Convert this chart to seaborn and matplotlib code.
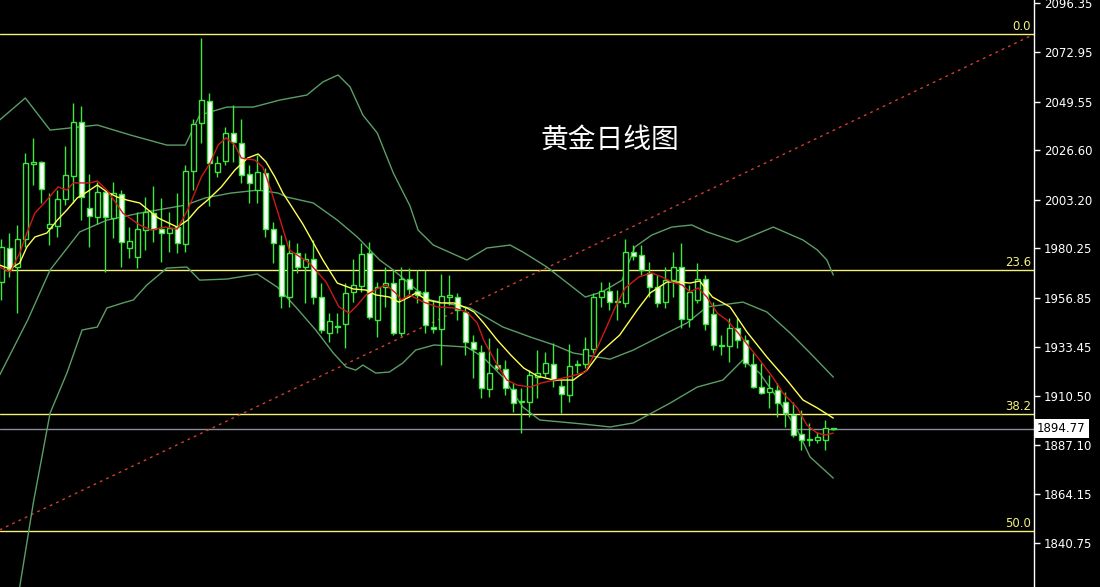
import numpy as np
import pandas as pd
import matplotlib
matplotlib.use("Agg")
import matplotlib.pyplot as plt
import seaborn as sns

# 日线 K 线数据 (开, 高, 低, 收)
opens = [1964.3, 1980.4, 1971.4, 1984.7, 2020.1, 2021.1, 1989.9, 1990.8, 2003.6, 2014.5,
         2040.0, 1999.3, 1995.1, 2006.9, 1994.6, 2006.0, 1980.4, 1976.2, 1988.9, 1996.9,
         1989.4, 1987.5, 1990.3, 1982.3, 2016.8, 2039.5, 2050.0, 2016.4, 2021.6, 2034.8,
         2030.1, 2015.4, 2007.8, 2015.9, 1989.4, 1981.8, 1957.2, 1978.0, 1971.4, 1975.2,
         1957.2, 1940.2, 1943.0, 1944.4, 1959.6, 1962.4, 1978.0, 1946.3, 1961.9, 1963.8,
         1940.2, 1965.7, 1960.0, 1959.6, 1943.0, 1942.1, 1957.2, 1957.2, 1950.1, 1935.9,
         1931.2, 1913.7, 1925.0, 1923.1, 1913.7, 1907.5, 1907.5, 1919.3, 1921.2, 1925.5,
         1915.1, 1910.8, 1925.0, 1925.5, 1932.6, 1957.2, 1960.0, 1954.8, 1954.4, 1978.5,
         1977.1, 1968.6, 1961.9, 1954.8, 1965.2, 1971.4, 1946.8, 1955.8, 1965.7, 1949.2,
         1934.5, 1934.0, 1942.5, 1936.8, 1925.5, 1914.6, 1912.2, 1913.2, 1907.5, 1901.4,
         1892.3, 1890.0, 1889.5, 1889.5, 1894.8]
highs = [1984.7, 1987.5, 1991.3, 2025.4, 2032.5, 2021.6, 2006.4, 2007.8, 2028.7, 2049.0,
         2047.6, 2015.4, 2011.6, 2007.4, 2011.6, 2008.0, 1990.3, 1997.4, 2004.5, 2009.7,
         2004.1, 1997.4, 2006.4, 2019.7, 2041.4, 2079.8, 2053.8, 2023.9, 2037.7, 2048.1,
         2041.4, 2019.7, 2024.4, 2018.2, 1992.7, 1986.5, 1984.2, 1982.7, 1978.0, 1984.2,
         1963.8, 1949.6, 1949.6, 1963.8, 1975.2, 1982.7, 1983.2, 1964.3, 1971.4, 1970.0,
         1971.4, 1970.9, 1970.0, 1970.0, 1955.8, 1968.1, 1967.6, 1959.1, 1952.5, 1939.2,
         1934.5, 1937.8, 1933.1, 1927.4, 1916.5, 1914.1, 1922.6, 1932.1, 1931.2, 1935.4,
         1917.9, 1934.9, 1927.4, 1938.3, 1959.1, 1964.3, 1964.3, 1960.5, 1984.7, 1981.8,
         1981.8, 1973.8, 1967.6, 1971.4, 1978.5, 1982.7, 1962.9, 1973.3, 1967.6, 1954.8,
         1939.2, 1947.3, 1947.3, 1939.2, 1930.7, 1926.0, 1920.3, 1916.5, 1912.2, 1907.5,
         1903.7, 1897.6, 1893.3, 1899.0, 1895.2]
lows = [1955.8, 1966.7, 1949.6, 1980.9, 2010.2, 2001.7, 1981.8, 1985.6, 2000.7, 2001.7,
        1993.6, 1980.9, 1991.7, 1969.0, 1985.1, 1971.4, 1975.7, 1970.9, 1979.5, 1983.2,
        1973.8, 1978.5, 1978.0, 1978.5, 2007.8, 2030.1, 2000.2, 2014.0, 2019.7, 2021.1,
        2011.2, 2001.7, 2001.7, 1985.6, 1973.3, 1952.0, 1952.5, 1968.6, 1954.4, 1953.9,
        1940.2, 1935.9, 1940.2, 1933.1, 1954.8, 1959.6, 1946.8, 1938.3, 1952.5, 1939.2,
        1938.8, 1958.6, 1954.4, 1940.2, 1940.2, 1925.0, 1953.4, 1946.3, 1929.7, 1918.9,
        1909.4, 1909.9, 1922.6, 1910.8, 1902.8, 1892.8, 1900.4, 1909.4, 1919.3, 1914.6,
        1902.3, 1907.5, 1921.2, 1923.6, 1930.7, 1952.5, 1951.1, 1946.3, 1952.5, 1974.7,
        1967.6, 1957.2, 1952.5, 1952.0, 1957.2, 1942.5, 1943.0, 1954.4, 1941.6, 1932.1,
        1929.7, 1926.4, 1933.1, 1924.1, 1914.1, 1911.3, 1904.7, 1900.4, 1895.7, 1890.9,
        1884.8, 1886.7, 1888.1, 1884.8, 1894.5]
closes = [1980.9, 1970.5, 1984.7, 2020.6, 2021.1, 2008.3, 1991.7, 2003.6, 2014.9, 2040.0,
          2004.5, 1995.5, 2006.9, 1995.1, 2006.5, 1983.2, 1983.7, 1989.4, 1997.4, 1989.4,
          1987.5, 1989.9, 1982.7, 2016.8, 2039.1, 2050.4, 2020.6, 2020.6, 2034.8, 2030.6,
          2014.9, 2011.2, 2016.4, 1989.4, 1982.7, 1957.7, 1978.0, 1971.4, 1975.2, 1957.2,
          1941.6, 1945.8, 1943.5, 1959.1, 1962.9, 1977.5, 1947.7, 1961.9, 1963.8, 1940.2,
          1965.7, 1961.0, 1958.1, 1943.9, 1942.1, 1957.7, 1958.1, 1951.1, 1935.9, 1932.6,
          1914.1, 1921.2, 1923.6, 1914.1, 1907.0, 1908.0, 1920.3, 1921.2, 1926.0, 1917.9,
          1911.3, 1924.5, 1925.5, 1932.6, 1957.2, 1960.0, 1954.8, 1955.3, 1978.5, 1976.6,
          1970.0, 1961.9, 1954.4, 1965.2, 1971.4, 1946.8, 1959.6, 1965.7, 1944.4, 1934.5,
          1934.0, 1942.5, 1936.8, 1926.0, 1914.6, 1911.8, 1914.1, 1907.0, 1902.3, 1891.9,
          1889.5, 1889.5, 1891.0, 1895.2, 1894.77]

# 均线 (红色快线 / 黄色慢线), 按K线序号取点
ma_fast_x = [-0.2, 1.1, 2.3, 3.2, 4.2, 5.7, 7.1, 8.2, 9.0, 11.1, 12.0, 13.2, 15.2, 17.3, 18.7,
             20.5, 22.0, 23.3, 25.0, 26.1, 27.1, 28.1, 29.2, 30.0, 31.7, 32.7, 33.7, 34.6, 36.0,
             38.5, 40.6, 42.2, 43.5, 44.3, 45.6, 47.2, 48.1, 49.3, 50.0, 51.0, 52.8, 54.5, 56.6,
             58.2, 59.5, 60.3, 62.0, 63.2, 64.5, 66.2, 67.5, 69.1, 71.3, 73.0, 74.2, 75.5, 76.7,
             78.0, 79.7, 81.3, 82.6, 83.8, 85.1, 86.1, 87.1, 88.2, 89.5, 90.7, 92.0, 93.3, 94.8,
             96.5, 97.7, 99.5, 100.7, 102.0, 103.0, 104.0]
ma_fast = [1971.4, 1969.0, 1978.0, 1987.5, 1996.9, 2003.1, 2009.3, 2007.8, 2011.2, 2011.2,
           2012.1, 2007.8, 1996.9, 1991.3, 1988.9, 1990.3, 1989.4, 1998.4, 2014.0, 2020.6,
           2029.1, 2032.5, 2029.1, 2023.0, 2022.0, 2018.7, 2007.8, 1996.9, 1979.5, 1973.3,
           1964.3, 1952.5, 1949.6, 1952.5, 1958.2, 1961.5, 1962.9, 1959.1, 1955.8, 1958.2,
           1954.8, 1952.5, 1952.0, 1950.1, 1944.9, 1936.8, 1925.0, 1917.9, 1915.5, 1914.6,
           1916.5, 1917.9, 1919.8, 1921.7, 1930.7, 1941.6, 1952.0, 1961.5, 1966.7, 1968.6,
           1966.7, 1964.3, 1962.9, 1959.6, 1961.5, 1957.2, 1949.6, 1946.3, 1940.7, 1934.5,
           1927.4, 1918.9, 1911.8, 1904.7, 1896.6, 1892.8, 1891.9, 1892.8]
ma_slow_x = [-0.2, 1.1, 2.3, 3.2, 4.2, 5.7, 7.0, 8.2, 9.5, 10.7, 12.0, 13.2, 14.5, 15.7, 17.3,
             19.6, 22.0, 23.3, 24.6, 25.8, 27.5, 29.2, 30.8, 32.1, 33.1, 34.2, 35.2, 37.7, 40.2,
             42.0, 44.0, 45.6, 46.8, 48.5, 49.7, 51.0, 51.8, 53.2, 55.0, 56.6, 58.2, 59.1, 60.3,
             62.0, 63.7, 65.3, 67.0, 69.1, 71.5, 73.2, 74.8, 77.3, 79.5, 81.1, 83.2, 84.8, 86.1,
             87.3, 88.9, 91.1, 93.2, 95.7, 98.2, 100.2, 102.0, 104.0]
ma_slow = [1972.3, 1970.5, 1973.3, 1980.9, 1985.6, 1987.5, 1993.6, 1998.4, 2004.1, 2006.9,
           2010.2, 2006.9, 2004.5, 2003.1, 2001.7, 1994.6, 1990.3, 1993.6, 1999.3, 2003.1,
           2009.3, 2017.3, 2023.0, 2024.9, 2021.1, 2014.0, 2006.4, 1991.7, 1974.7, 1963.8,
           1961.0, 1960.5, 1958.2, 1957.2, 1954.8, 1957.2, 1959.1, 1955.8, 1954.4, 1954.4,
           1952.0, 1950.1, 1944.9, 1936.8, 1929.7, 1923.6, 1919.8, 1917.9, 1917.9, 1922.6,
           1930.7, 1939.2, 1951.1, 1959.1, 1964.3, 1964.3, 1963.8, 1964.8, 1957.2, 1952.5,
           1940.7, 1928.8, 1917.9, 1908.5, 1904.7, 1899.9]

# 布林带 上轨 / 中轨 / 下轨
bb_up_x = [-0.2, 3.0, 6.1, 12.0, 16.1, 20.7, 23.0, 24.8, 28.2, 31.5, 34.8, 38.2, 40.2, 42.1,
           43.6, 45.2, 47.0, 49.0, 51.1, 52.1, 54.0, 58.2, 60.7, 63.6, 65.2, 68.2, 73.0, 75.1,
           77.6, 79.2, 81.3, 83.8, 86.3, 88.2, 92.0, 96.5, 100.2, 102.0, 103.2, 104.0]
bb_up = [2041.0, 2051.4, 2036.2, 2038.6, 2033.9, 2029.1, 2029.1, 2043.3, 2047.1, 2047.1,
         2050.4, 2052.8, 2059.0, 2062.3, 2056.6, 2043.3, 2034.8, 2015.9, 2000.2, 1988.9,
         1981.8, 1974.7, 1980.4, 1981.8, 1978.5, 1971.4, 1957.2, 1959.6, 1965.2, 1980.9,
         1986.5, 1990.3, 1991.3, 1988.0, 1983.2, 1990.3, 1984.2, 1979.5, 1974.7, 1967.6]
bb_mid_x = [-0.2, 3.3, 6.1, 9.8, 13.2, 17.3, 23.0, 25.5, 28.7, 32.1, 34.6, 35.7, 39.0, 42.0,
            44.5, 47.3, 49.0, 51.5, 53.6, 58.6, 62.7, 66.1, 69.1, 71.5, 76.1, 79.0, 83.2, 85.7,
            88.2, 92.7, 95.7, 98.6, 101.1, 104.0]
bb_mid = [1920.3, 1946.3, 1970.0, 1988.0, 1993.6, 1996.9, 2000.7, 2004.1, 2006.4, 2007.8,
          2006.4, 2004.5, 2001.7, 1993.6, 1985.6, 1974.7, 1970.0, 1961.9, 1955.8, 1952.0,
          1943.0, 1938.3, 1934.5, 1930.7, 1927.8, 1932.1, 1940.2, 1944.9, 1952.5, 1954.8,
          1950.1, 1940.2, 1930.7, 1919.3]
bb_low_x = [-0.2, 2.3, 4.0, 6.1, 8.2, 10.1, 12.0, 13.2, 15.2, 16.5, 18.2, 20.7, 23.2, 24.8,
            28.2, 32.0, 34.5, 36.8, 39.3, 41.5, 43.1, 44.3, 45.2, 46.8, 48.5, 50.2, 51.8, 54.1,
            58.2, 60.2, 62.7, 65.2, 67.3, 72.7, 76.1, 79.0, 83.6, 87.0, 90.2, 92.7, 94.8, 96.9,
            99.5, 101.1, 104.0]
bb_low = [1785.0, 1819.9, 1859.7, 1902.3, 1921.2, 1941.6, 1943.0, 1952.0, 1954.4, 1955.8,
          1962.9, 1970.9, 1971.4, 1965.2, 1965.7, 1968.1, 1961.9, 1952.5, 1941.6, 1930.7,
          1924.1, 1922.6, 1925.0, 1921.2, 1921.7, 1926.0, 1932.1, 1934.5, 1933.5, 1928.8,
          1919.3, 1905.1, 1899.0, 1897.1, 1895.7, 1897.6, 1907.0, 1914.6, 1917.9, 1927.4,
          1921.2, 1909.9, 1894.3, 1881.5, 1871.5]

# 趋势线与斐波那契回撤
trend_x = [-0.2, 128.9]
trend_y = [1847.0, 2081.2]
fib_levels = [2081.7, 1970.2, 1901.9, 1846.5]
fib_labels = ["0.0", "23.6", "38.2", "50.0"]
last_price = 1894.77

y_ticks = [2096.35, 2072.95, 2049.55, 2026.60, 2003.20, 1980.25,
           1956.85, 1933.45, 1910.50, 1887.10, 1864.15, 1840.75]
title = "黄金日线图"

GREEN = "#3ee83e"
BAND = "#5a9e66"

sns.set_style("dark", {"axes.facecolor": "black", "figure.facecolor": "black"})
plt.rcParams['font.family'] = ['DejaVu Sans', 'Noto Sans CJK SC']

fig = plt.figure(figsize=(11, 5.87), dpi=100)
ax = fig.add_axes([0, 0, 1034 / 1100, 1])
ax.set_facecolor("black")

# 斐波那契水平线 & 现价线
for lv, lab in zip(fib_levels, fib_labels):
    ax.axhline(lv, color="#f2f27a", lw=1, zorder=1)
    ax.text(0.997, lv + 0.4, lab, color="#f2f27a", fontsize=8.5, ha="right", va="bottom",
            transform=ax.get_yaxis_transform())
ax.axhline(last_price, color="#8a8c9c", lw=1, zorder=1)

# 趋势线
ax.plot(trend_x, trend_y, color="#d0402c", lw=1, ls=(0, (2, 3)), zorder=1)

# 布林带
bands = pd.concat([
    pd.DataFrame({"x": bb_up_x, "y": bb_up, "line": "up"}),
    pd.DataFrame({"x": bb_mid_x, "y": bb_mid, "line": "mid"}),
    pd.DataFrame({"x": bb_low_x, "y": bb_low, "line": "low"}),
])
sns.lineplot(data=bands, x="x", y="y", units="line", estimator=None, color=BAND, lw=1,
             sort=False, ax=ax, zorder=2)

# K 线
idx = np.arange(len(opens))
o = np.array(opens)
c = np.array(closes)
diff = np.abs(c - o)
bottoms = np.minimum(o, c)
heights = np.maximum(diff, 0.25)
faces = []
for oo, cc, d in zip(o, c, diff):
    if d < 0.8:
        faces.append(GREEN)
    elif cc >= oo:
        faces.append("black")
    else:
        faces.append("white")
ax.vlines(idx, lows, highs, color=GREEN, lw=1, zorder=3)
ax.bar(idx, heights, bottom=bottoms, width=0.62, color=faces, edgecolor=GREEN,
       linewidth=1, zorder=4)

# 均线
sns.lineplot(x=ma_slow_x, y=ma_slow, color="#ffff55", lw=1, sort=False, ax=ax, zorder=5)
sns.lineplot(x=ma_fast_x, y=ma_fast, color="#d01818", lw=1, sort=False, ax=ax, zorder=5)

ax.set_xlim(-0.1625, 129.09)
ax.set_ylim(1819.96, 2097.77)
ax.set_xlabel("")
ax.set_ylabel("")
ax.set_xticks([])
ax.grid(False)

ax.yaxis.tick_right()
ax.set_yticks(y_ticks)
ax.set_yticklabels([f"{v:.2f}" for v in y_ticks])
ax.tick_params(axis="y", colors="white", labelsize=8.5, length=4, width=1, direction="out", pad=3)
for s in ["top", "left", "bottom"]:
    ax.spines[s].set_visible(False)
ax.spines["right"].set_color("white")
ax.spines["right"].set_linewidth(1)

ax.text(1.0 + 3 / 1034, last_price, f"{last_price:.2f}", transform=ax.get_yaxis_transform(),
        ha="left", va="center", fontsize=8.5, color="black", clip_on=False, zorder=10,
        bbox=dict(facecolor="white", edgecolor="none", boxstyle="square,pad=0.25"))

ax.text(610 / 1034, 1 - 140 / 587, title, transform=ax.transAxes, color="white",
        fontsize=20, ha="center", va="center", family=["Noto Sans CJK SC"])

fig.savefig("out.png", dpi=100, facecolor="black")
